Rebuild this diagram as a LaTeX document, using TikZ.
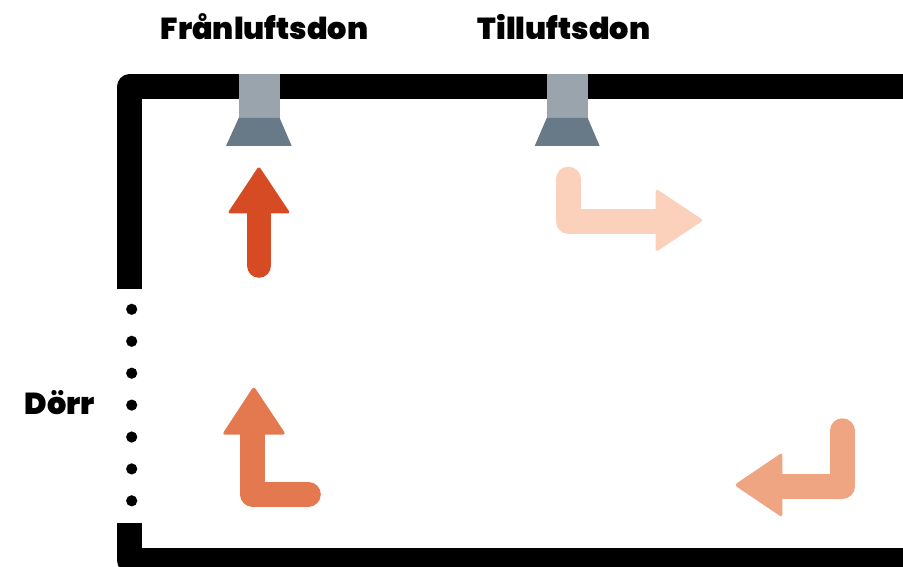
\documentclass[tikz,border=0pt]{standalone}
\usepackage{fontspec}
\setmainfont{Poppins}[UprightFont=* Black]
\definecolor{ductlight}{HTML}{9AA4AD}
\definecolor{ductdark}{HTML}{687A88}
\definecolor{arrowred}{HTML}{D64B24}
\definecolor{arroworange}{HTML}{E4784E}
\definecolor{arrowpeach}{HTML}{F0A582}
\definecolor{arrowpale}{HTML}{FBD1BC}
\tikzset{
  wall/.style={draw=black,line width=25pt,line join=round},
  shaft/.style={line width=24.6pt,line join=round,line cap=round},
  head/.style={rounded corners=3pt},
  doordot/.style={fill=black},
  duct/.style={fill=ductlight},
  nozzle/.style={fill=ductdark},
  label/.style={inner sep=0pt,anchor=base,font=\fontsize{30.3}{33}\selectfont}
}
\begin{document}
\begin{tikzpicture}[x=1pt,y=-1pt]
\useasboundingbox (0,0) rectangle (903,567);
\clip (0,0) rectangle (903,567);
\fill[white] (0,0) rectangle (903,567);
% walls
\draw[wall] (129.5,289) -- (129.5,87) -- (930,87);
\draw[wall] (129.5,523) -- (129.5,560.5) -- (930,560.5);
% door dots
\foreach \y in {309.3,341.3,373.2,405.1,437,468.9,500.8}
  \fill[doordot] (131.7,\y) circle[radius=5.6pt];
% diffusers
\fill[duct] (238.7,74.5) rectangle (279.7,118.5);
\fill[nozzle] (238.7,118) -- (279.7,118) -- (291.7,146) -- (226,146) -- cycle;
\fill[duct] (546.7,74.5) rectangle (587.7,118.5);
\fill[nozzle] (546.7,118) -- (587.7,118) -- (599.7,146) -- (534.7,146) -- cycle;
% red arrow
\draw[shaft,arrowred] (258.9,265.5) -- (258.9,205);
\fill[head,arrowred] (258.9,166) -- (290.5,213.5) -- (227.3,213.5) -- cycle;
% pale arrow
\draw[shaft,arrowpale] (568.3,179) -- (568.3,221.3) -- (662,221.3);
\fill[head,arrowpale] (703.5,220.3) -- (655.7,188.5) -- (655.7,252.2) -- cycle;
% orange arrow
\draw[shaft,arroworange] (308.5,494.2) -- (252.6,494.2) -- (252.6,428);
\fill[head,arroworange] (253.8,386.2) -- (286,434.6) -- (222,434.6) -- cycle;
% peach arrow
\draw[shaft,arrowpeach] (842.2,430.6) -- (842.2,486.5) -- (775,486.5);
\fill[head,arrowpeach] (734.2,485) -- (782.3,452.5) -- (782.3,517.5) -- cycle;
% labels
\node[label] (franluft) at (264.5,40) {Frånluftsdon};
\node[label] (tilluft) at (564,40) {Tilluftsdon};
\node[label] (dorr) at (60,414) {Dörr};
\end{tikzpicture}
\end{document}
